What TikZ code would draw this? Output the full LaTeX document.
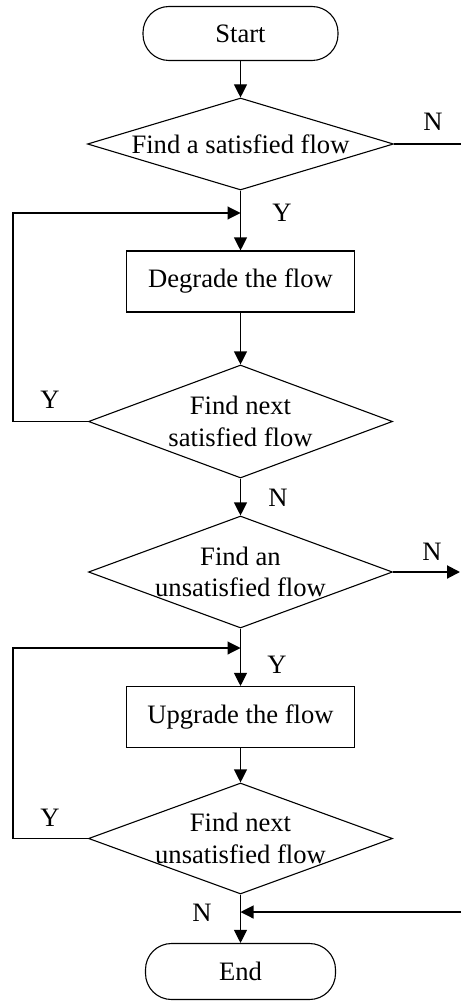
\documentclass[tikz,border=0pt]{standalone}
\usepackage{fontspec}
\setmainfont{Liberation Serif}
\usetikzlibrary{arrows.meta,shapes.geometric}
\begin{document}
\begin{tikzpicture}[x=1pt,y=-1pt,
  every node/.style={font=\fontsize{26.6}{31.5}\selectfont},
  line/.style={line width=1.1pt},
  arr/.style={line width=1.1pt,-{Triangle[length=13pt,width=13pt]}},
  term/.style={draw,line width=1.1pt,rounded corners=26pt,minimum width=195pt,minimum height=54pt,inner sep=0},
  proc/.style={draw,line width=1.1pt,minimum width=228pt,minimum height=61pt,inner sep=0},
  dec/.style={draw,line width=1.1pt,diamond,inner sep=0,minimum width=304pt},
  lab/.style={inner sep=0}]
\useasboundingbox (0,0) rectangle (461,1003);
\node[term] (start) at (240.5,33.5) {Start};
\node[dec,minimum width=306pt,minimum height=92pt,label={[align=center]center:Find a satisfied flow}] (d1) at (240.5,144) {};
\node[proc] (b1) at (240.5,281.5) {Degrade the flow};
\node[dec,minimum height=113pt,label={[align=center]center:Find next\\satisfied flow}] (d2) at (240.5,421.5) {};
\node[dec,minimum height=112pt,label={[align=center]center:Find an\\unsatisfied flow}] (d3) at (240.5,572) {};
\node[proc] (b2) at (240.5,717) {Upgrade the flow};
\node[dec,minimum height=111pt,label={[align=center]center:Find next\\unsatisfied flow}] (d4) at (240.5,838.5) {};
\node[term,minimum width=190pt,minimum height=56pt] (e) at (240.5,971.5) {End};
\coordinate (j1) at (240.5,213);
\coordinate (l1) at (13,213);
\coordinate (n1) at (461,144);
\coordinate (j2) at (240.5,648);
\coordinate (l2) at (13,648);
\coordinate (n3) at (460,572);
\coordinate (j3) at (240.5,912);
\coordinate (n4) at (461,912);
\draw[arr] (start) -- (d1);
\draw[line] (d1.east) -- (n1);
\draw[arr] (d1) -- (b1);
\draw[arr] (d2.west) -- (d2.west -| l1) -- (l1) -- (j1);
\draw[arr] (b1) -- (d2);
\draw[arr] (d2) -- (d3);
\draw[arr,line width=2pt] (d3.east) -- (n3);
\draw[arr] (d3) -- (b2);
\draw[arr] (b2) -- (d4);
\draw[arr] (d4.west) -- (d4.west -| l2) -- (l2) -- (j2);
\draw[arr] (d4) -- (e);
\draw[arr] (n4) -- (j3);
\node[lab] (t1) at (433,122) {N};
\node[lab] (t2) at (282,213) {Y};
\node[lab] (t3) at (50,400) {Y};
\node[lab] (t4) at (278,498) {N};
\node[lab] (t5) at (432,552) {N};
\node[lab] (t6) at (277,665) {Y};
\node[lab] (t7) at (50,818) {Y};
\node[lab] (t8) at (202,913) {N};
\end{tikzpicture}
\end{document}
